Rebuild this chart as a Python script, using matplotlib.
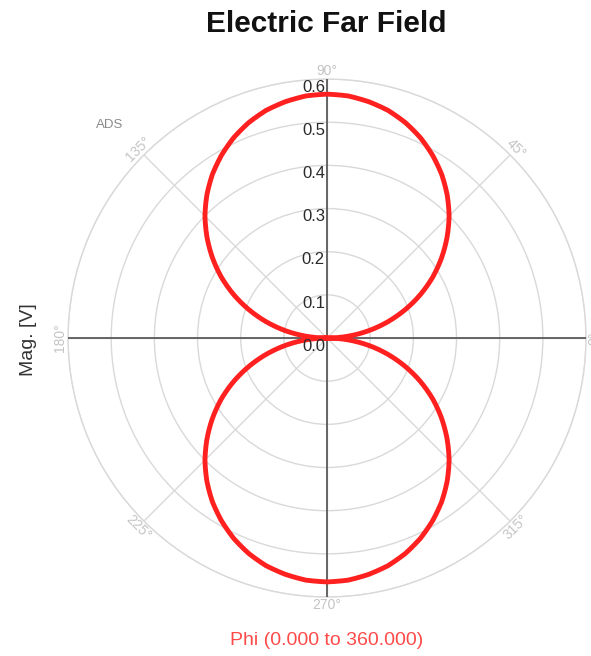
import numpy as np
import matplotlib.pyplot as plt

plt.rcParams['font.family'] = ['Liberation Sans', 'DejaVu Sans']

# far field magnitude [V] sampled every 5 degrees of phi
phi_deg = list(range(0, 365, 5))
mag = [0.000, 0.049, 0.098, 0.146, 0.193, 0.239, 0.283, 0.324, 0.363, 0.400,
       0.433, 0.463, 0.489, 0.512, 0.531, 0.546, 0.556, 0.563, 0.565,
       0.563, 0.556, 0.546, 0.531, 0.512, 0.489, 0.463, 0.433, 0.400,
       0.363, 0.324, 0.283, 0.239, 0.193, 0.146, 0.098, 0.049, 0.000,
       0.049, 0.098, 0.146, 0.193, 0.239, 0.283, 0.324, 0.363, 0.400,
       0.433, 0.463, 0.489, 0.512, 0.531, 0.546, 0.556, 0.563, 0.565,
       0.563, 0.556, 0.546, 0.531, 0.512, 0.489, 0.463, 0.433, 0.400,
       0.363, 0.324, 0.283, 0.239, 0.193, 0.146, 0.098, 0.049, 0.000]

r_ticks = [0.0, 0.1, 0.2, 0.3, 0.4, 0.5, 0.6]
theta_ticks = [0, 45, 90, 135, 180, 225, 270, 315]

fig = plt.figure(figsize=(5.91, 6.56), dpi=100)
ax = fig.add_axes([0.1151, 0.0899, 0.8765, 0.7896], projection='polar')

ax.set_ylim(0, 0.6)
ax.set_rgrids(r_ticks[1:], labels=[])
ax.set_thetagrids(theta_ticks, labels=[])
ax.grid(True, color='#d9d9d9', lw=1.0)
ax.spines['polar'].set_color('#d9d9d9')
ax.spines['polar'].set_linewidth(1.0)

# dark axis lines through the origin
for t in [0, 90, 180, 270]:
    ax.plot([np.radians(t)] * 2, [0, 0.6], color='#5a5a5a', lw=1.3, zorder=3)

line, = ax.plot(np.radians(phi_deg), mag, color='#ff2020', lw=3.5, zorder=4)
# bend each segment along the polar grid instead of drawing straight chords
line.get_path()._interpolation_steps = 20

# magnitude labels along the 90 degree line
for r in r_ticks:
    ax.annotate(f'{r:.1f}', xy=(np.pi / 2, r), xytext=(-1.5, -0.5),
                textcoords='offset points', ha='right', va='top',
                fontsize=12, color='#2a2a2a', zorder=5)

# angle labels around the rim, written along the circle
for t in theta_ticks:
    rot = t - 90
    if rot <= -90:
        rot += 180
    if rot > 90:
        rot -= 180
    if t == 0:
        rot = 90
    a = np.radians(t)
    ax.annotate(f'{t}°', xy=(a, 0.6), xytext=(6 * np.cos(a), 6 * np.sin(a)),
                textcoords='offset points', ha='center', va='center',
                rotation=rot, fontsize=10, color='#c4c4c4',
                annotation_clip=False)

fig.text(0.552, 0.963, 'Electric Far Field', ha='center', va='center',
         fontsize=21.5, fontweight='bold', color='#111111')
fig.text(0.048, 0.482, 'Mag. [V]', ha='center', va='center', rotation=90,
         fontsize=14, color='#333333')
fig.text(0.552, 0.024, 'Phi (0.000 to 360.000)', ha='center', va='center',
         fontsize=14, color='#ff4a4a')
fig.text(0.186, 0.810, 'ADS', ha='center', va='center', fontsize=9.5,
         color='#8a8a8a')

fig.savefig('out.png', dpi=100)
